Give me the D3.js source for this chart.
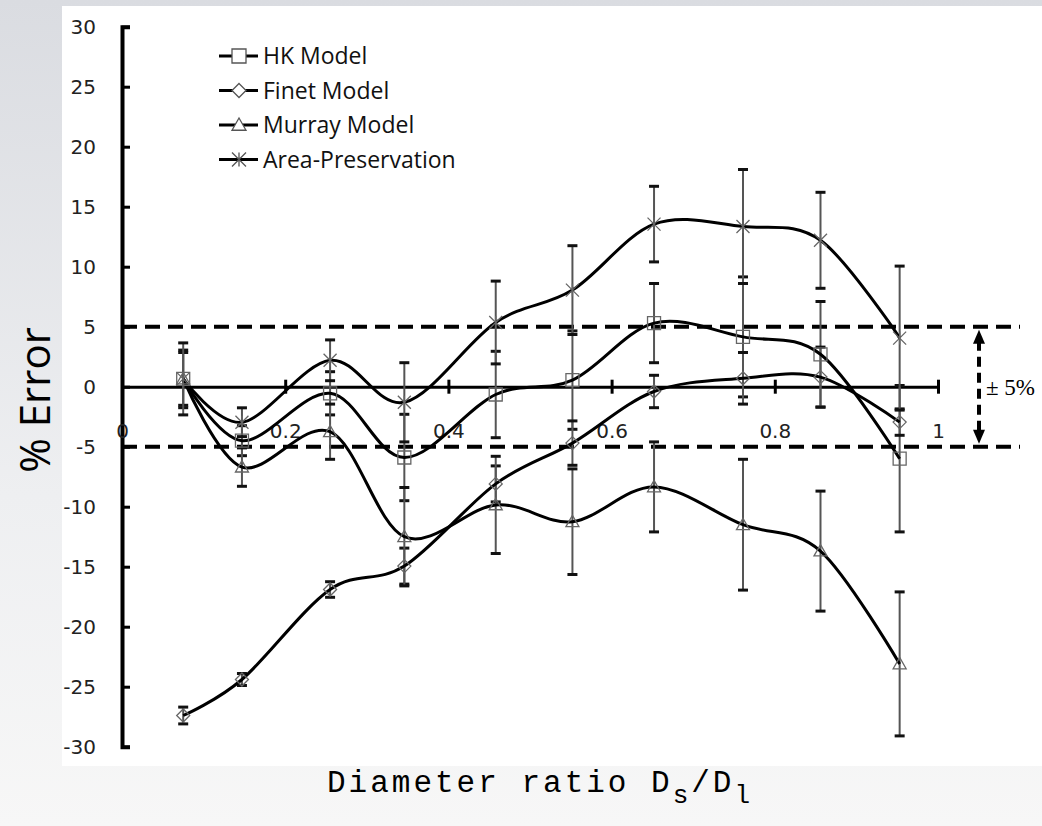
<!DOCTYPE html>
<html>
    <head>
        <meta charset="utf-8">
        <style>
            body { margin: 0; }
            .tick text { font-family: "DejaVu Sans", sans-serif; font-size: 20px; fill: #222; }
            .legend text { font-family: "Open Sans", sans-serif; font-size: 23px; fill: #111; }
        </style>
        <script src="https://d3js.org/d3.v7.min.js"></script>
    </head>
    <body>
        <svg width="1042" height="826"></svg>
        <script>
            // values
            var ratios = [0.075, 0.147, 0.255, 0.346, 0.458, 0.552, 0.652, 0.761, 0.856, 0.953];

            var hkVals = [0.65, -4.5, -0.55, -5.9, -0.65, 0.55, 5.3, 4.15, 2.7, -6.0];
            var hkErr = [2.4, 1.25, 1.8, 3.6, 3.6, 4.1, 3.3, 5.0, 4.4, 6.1];

            var finetVals = [-27.4, -24.4, -16.9, -14.95, -8.1, -4.7, -0.4, 0.7, 0.8, -2.95];
            var finetErr = [0.7, 0.5, 0.65, 1.5, 1.5, 1.85, 1.35, 2.15, 2.5, 1.1];

            var murrayVals = [0.65, -6.7, -3.75, -12.5, -9.85, -11.25, -8.35, -11.5, -13.7, -23.1];
            var murrayErr = [2.2, 1.6, 2.3, 4.1, 4.05, 4.4, 3.75, 5.45, 5.0, 6.0];

            var areaVals = [0.65, -2.96, 2.2, -1.3, 5.35, 8.05, 13.55, 13.35, 12.2, 4.05];
            var areaErr = [3.0, 1.2, 1.7, 3.3, 3.45, 3.7, 3.15, 4.75, 4.0, 6.0];

            var seriesNames = ["HK Model", "Finet Model", "Murray Model", "Area-Preservation"];
            var markerTypes = ["square", "diamond", "triangle", "asterisk"];

            var xTickValues = [0, 0.2, 0.4, 0.6, 0.8, 1];
            var yTickValues = [-30, -25, -20, -15, -10, -5, 0, 5, 10, 15, 20, 25, 30];
            var bandLimits = [5, -5];

            var series = [
                {name: seriesNames[0], marker: markerTypes[0], vals: hkVals, err: hkErr},
                {name: seriesNames[1], marker: markerTypes[1], vals: finetVals, err: finetErr},
                {name: seriesNames[2], marker: markerTypes[2], vals: murrayVals, err: murrayErr},
                {name: seriesNames[3], marker: markerTypes[3], vals: areaVals, err: areaErr}
            ];

            var svg = d3.select("svg");

            // slide-like background
            var defs = svg.append("defs");
            var grad = defs.append("linearGradient")
                .attr("id", "bg").attr("x1", 0).attr("y1", 0).attr("x2", 0).attr("y2", 1);
            grad.append("stop").attr("offset", "0%").attr("stop-color", "#dadce1");
            grad.append("stop").attr("offset", "60%").attr("stop-color", "#eeeff1");
            grad.append("stop").attr("offset", "100%").attr("stop-color", "#f7f7f7");
            svg.append("rect").attr("width", 1042).attr("height", 826).attr("fill", "url(#bg)");
            svg.append("rect").attr("x", 62).attr("y", 6).attr("width", 980).attr("height", 760).attr("fill", "#fff");

            var x = d3.scaleLinear().domain([0, 1]).range([122, 938]);
            var y = d3.scaleLinear().domain([-30, 30]).range([746.7, 26.7]);

            function markerPath(type, s) {
                var h = s / 2;
                if (type == "square") return "M" + (-h) + "," + (-h) + "H" + h + "V" + h + "H" + (-h) + "Z";
                if (type == "diamond") return "M0," + (-h) + "L" + h + ",0L0," + h + "L" + (-h) + ",0Z";
                if (type == "triangle") return "M0," + (-h) + "L" + h + "," + (h * 0.75) + "L" + (-h) + "," + (h * 0.75) + "Z";
                return "M" + (-h) + "," + (-h) + "L" + h + "," + h + "M" + h + "," + (-h) + "L" + (-h) + "," + h + "M0," + (-h) + "V" + h;
            }

            // +-5% dashed band
            svg.selectAll(".band")
                .data(bandLimits)
                .enter().append("line")
                .attr("x1", x(0)).attr("x2", 1020)
                .attr("y1", function(d) { return y(d); })
                .attr("y2", function(d) { return y(d); })
                .attr("stroke", "#000").attr("stroke-width", 4)
                .attr("stroke-dasharray", "15,8");

            // y axis
            var yAxis = d3.axisLeft(y).tickValues(yTickValues).tickSize(-8).tickPadding(26)
                .tickFormat(function(d) { return String(d); });
            var gy = svg.append("g").attr("transform", "translate(" + x(0) + ",0)").call(yAxis);
            gy.select(".domain").attr("stroke-width", 4);
            gy.selectAll(".tick line").attr("stroke-width", 3);
            gy.selectAll(".tick text").attr("dy", "0.36em");

            // x axis through zero
            var xAxis = d3.axisBottom(x).tickValues(xTickValues).tickSizeOuter(0)
                .tickFormat(function(d) { return String(d); });
            var gx = svg.append("g").attr("transform", "translate(0," + y(0) + ")").call(xAxis);
            gx.select(".domain").attr("stroke-width", 3);
            gx.selectAll(".tick line")
                .attr("y1", -7).attr("y2", 7).attr("stroke-width", 3)
                .attr("display", function(d) { return d == 0 ? "none" : null; });
            gx.selectAll(".tick text").attr("y", 44).attr("dy", "0.35em").attr("fill", "#333");

            // error bars
            var bars = [];
            series.forEach(function(s) {
                s.vals.forEach(function(v, i) { bars.push({x: ratios[i], v: v, e: s.err[i]}); });
            });
            var eb = svg.append("g").selectAll("g").data(bars).enter().append("g");
            eb.append("line")
                .attr("x1", function(d) { return x(d.x); }).attr("x2", function(d) { return x(d.x); })
                .attr("y1", function(d) { return y(d.v + d.e); }).attr("y2", function(d) { return y(d.v - d.e); })
                .attr("stroke", "#555").attr("stroke-width", 2);
            eb.selectAll(".cap")
                .data(function(d) { return [[d.x, d.v + d.e], [d.x, d.v - d.e]]; })
                .enter().append("line")
                .attr("x1", function(d) { return x(d[0]) - 5; }).attr("x2", function(d) { return x(d[0]) + 5; })
                .attr("y1", function(d) { return y(d[1]); }).attr("y2", function(d) { return y(d[1]); })
                .attr("stroke", "#111").attr("stroke-width", 3);

            // smoothed lines
            var line = d3.line()
                .x(function(d, i) { return x(ratios[i]); })
                .y(function(d) { return y(d); })
                .curve(d3.curveCardinal.tension(0));

            svg.append("g").selectAll("path")
                .data(series)
                .enter().append("path")
                .attr("d", function(s) { return line(s.vals); })
                .attr("fill", "none").attr("stroke", "#000").attr("stroke-width", 3);

            // markers
            series.forEach(function(s) {
                svg.append("g").selectAll("path")
                    .data(s.vals)
                    .enter().append("path")
                    .attr("transform", function(d, i) { return "translate(" + x(ratios[i]) + "," + y(d) + ")"; })
                    .attr("d", markerPath(s.marker, 13))
                    .attr("fill", "none").attr("stroke", "#666").attr("stroke-width", 1.3);
            });

            // legend
            var legend = svg.append("g").attr("class", "legend")
                .selectAll("g").data(series)
                .enter().append("g")
                .attr("transform", function(d, i) { return "translate(0," + (56 + i * 34.5) + ")"; });
            legend.append("line").attr("x1", 219).attr("x2", 258).attr("stroke", "#000").attr("stroke-width", 3);
            legend.append("path")
                .attr("transform", "translate(239,0)")
                .attr("d", function(d) { return markerPath(d.marker, 14); })
                .attr("fill", "#fff").attr("stroke", "#555").attr("stroke-width", 1.3);
            legend.append("text").attr("x", 263).attr("dy", "0.36em").text(function(d) { return d.name; });

            // +-5% double arrow
            var ax = 979;
            svg.append("line")
                .attr("x1", ax).attr("x2", ax)
                .attr("y1", y(5) + 14).attr("y2", y(-5) - 14)
                .attr("stroke", "#000").attr("stroke-width", 4).attr("stroke-dasharray", "10,6");
            svg.append("path")
                .attr("d", "M" + ax + "," + (y(5) + 3) + "L" + (ax + 6) + "," + (y(5) + 17) + "L" + (ax - 6) + "," + (y(5) + 17) + "Z");
            svg.append("path")
                .attr("d", "M" + ax + "," + (y(-5) - 3) + "L" + (ax + 6) + "," + (y(-5) - 17) + "L" + (ax - 6) + "," + (y(-5) - 17) + "Z");
            svg.append("text")
                .attr("x", 986).attr("y", y(0) + 8)
                .style("font-family", "Liberation Serif, serif").style("font-size", "23px")
                .text("\u00b1 5%");

            // axis titles
            svg.append("text")
                .attr("transform", "translate(50,400) rotate(-90)")
                .attr("text-anchor", "middle")
                .style("font-family", "Open Sans, sans-serif").style("font-size", "42px")
                .text("% Error");

            var xt = svg.append("text")
                .attr("x", 327).attr("y", 792)
                .style("font-family", "Liberation Mono, monospace").style("font-size", "31px")
                .style("letter-spacing", "3px");
            xt.append("tspan").text("Diameter ratio D");
            xt.append("tspan").attr("dy", 11).style("font-size", "26px").text("s");
            xt.append("tspan").attr("dy", -11).text("/D");
            xt.append("tspan").attr("dy", 11).style("font-size", "26px").text("l");
        </script>
    </body>
</html>
